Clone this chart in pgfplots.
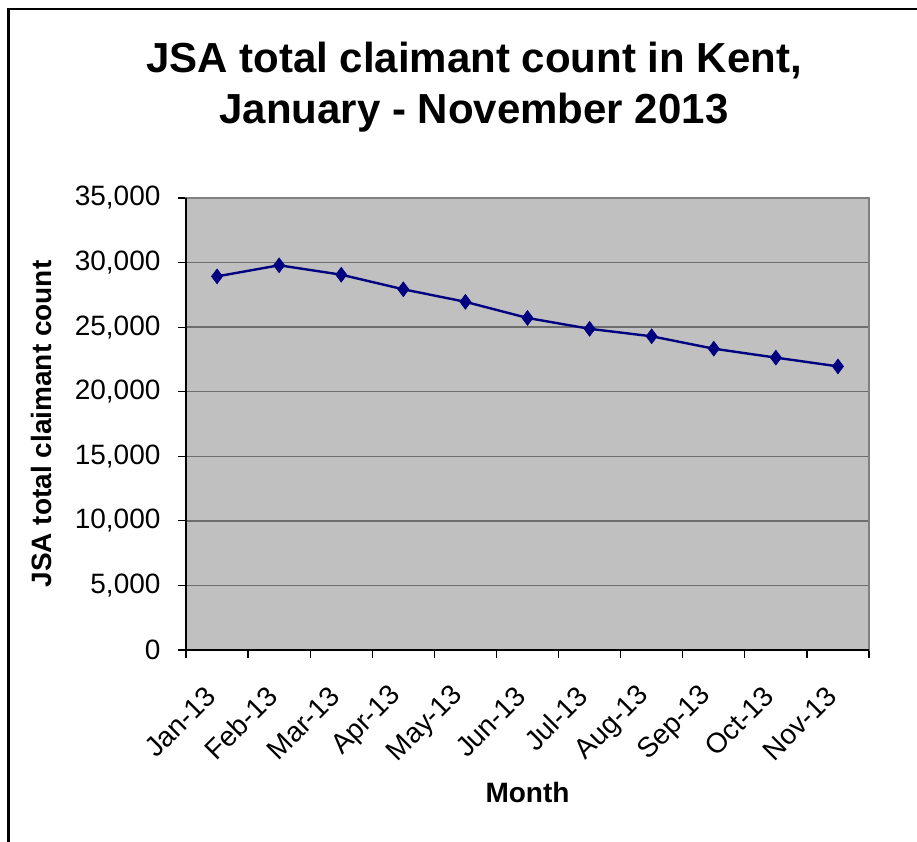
\documentclass[border=0pt]{standalone}
\usepackage{fontspec}
\setmainfont{Liberation Sans}
\usepackage{pgfplots}
\pgfplotsset{compat=1.18}
\definecolor{plotbg}{RGB}{192,192,192}
\definecolor{gridc}{RGB}{110,110,110}
\definecolor{frameg}{RGB}{128,128,128}
\definecolor{navy}{RGB}{0,0,128}
\begin{document}
\begin{tikzpicture}[x=1pt,y=1pt]
\useasboundingbox (0,0) rectangle (917,842);
\draw[line width=2.2pt] (8.5,-10) -- (8.5,833) -- (930,833);
\node[align=center,font=\fontsize{42}{51}\selectfont\bfseries] at (474,755) {JSA total claimant count in Kent,\\January - November 2013};
\begin{axis}[
  at={(186pt,192pt)}, anchor=south west,
  width=683pt, height=452pt, scale only axis,
  xmin=0.5, xmax=11.5, ymin=0, ymax=35000,
  xtick={1,...,11},
  xticklabels={Jan-13,Feb-13,Mar-13,Apr-13,May-13,Jun-13,Jul-13,Aug-13,Sep-13,Oct-13,Nov-13},
  minor xtick={0.5,1.5,...,11.5},
  major x tick style={draw=none},
  ytick={0,5000,...,35000},
  scaled y ticks=false,
  /pgf/number format/assume math mode=true,
  /pgf/number format/1000 sep={,},
  tick align=outside,
  xtick pos=bottom, ytick pos=left,
  major tick length=8pt, minor tick length=8pt,
  tick style={black, line width=1.2pt},
  ymajorgrids,
  grid style={gridc, line width=1.3pt},
  axis background/.style={fill=plotbg},
  axis line style={frameg, line width=2pt},
  ticklabel style={font=\fontsize{28}{32}\selectfont},
  xticklabel style={rotate=45, anchor=east, xshift=-25pt, yshift=-19pt},
  yticklabel style={xshift=-14pt},
  label style={font=\fontsize{28}{32}\selectfont\bfseries},
  xlabel={Month},
  ylabel={JSA total claimant count},
  xlabel style={at={(axis description cs:0.5,-0.316)}, anchor=center},
  ylabel style={at={(axis description cs:-0.211,0.5)}, anchor=center, rotate=0},
  after end axis/.code={\draw[black, line width=2pt] (rel axis cs:0,1) -- (rel axis cs:0,0) -- (rel axis cs:1,0);},
]
\addplot[navy, line width=2.4pt, mark=diamond*, mark size=7.5pt, mark options={fill=navy, draw=navy, line width=0.5pt}]
coordinates {
(1,28930) (2,29790) (3,29060) (4,27930) (5,26960) (6,25710) (7,24870) (8,24290) (9,23330) (10,22640) (11,21960)
};
\end{axis}
\end{tikzpicture}
\end{document}
